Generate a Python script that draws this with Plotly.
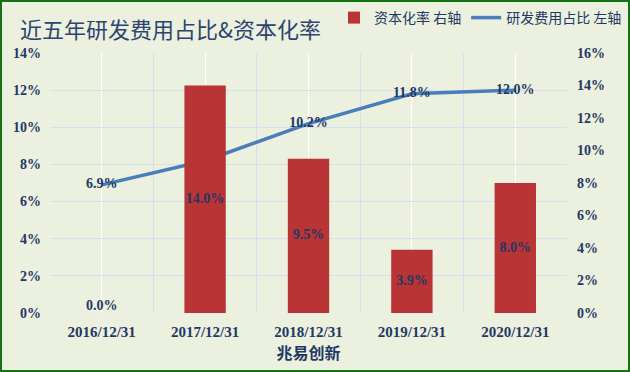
import plotly.graph_objects as go

categories = ["2016/12/31", "2017/12/31", "2018/12/31", "2019/12/31", "2020/12/31"]
cap_rate = [0.0, 14.0, 9.5, 3.9, 8.0]        # 资本化率 (right axis)
rd_ratio = [6.9, 8.2, 10.2, 11.8, 12.0]      # 研发费用占比 (left axis)
left_ticks = [0, 2, 4, 6, 8, 10, 12, 14]
right_ticks = [0, 2, 4, 6, 8, 10, 12, 14, 16]

NAVY = "#1F3864"
BG = "#EBF0DF"
GRID = "#D3E0F0"
SERIF = "Liberation Serif, Times New Roman, serif"
CJK = "Noto Sans CJK SC"

W, H = 630, 372
ML, MR, MT, MB = 50, 63, 53, 59
PW, PH = W - ML - MR, H - MT - MB

x = list(range(len(categories)))

fig = go.Figure()
fig.add_trace(go.Bar(
    x=x, y=cap_rate, name="资本化率 右轴", yaxis="y2",
    marker=dict(color="#B93434", line=dict(width=0)),
    width=0.4, hoverinfo="skip",
))
fig.add_trace(go.Scatter(
    x=x, y=[v / 2 for v in cap_rate], yaxis="y2", mode="text",
    text=[f"{v:.1f}%" for v in cap_rate],
    textposition=["top center" if v == 0 else "middle center" for v in cap_rate],
    textfont=dict(family=SERIF, size=14, color=NAVY, weight="bold"),
    showlegend=False, hoverinfo="skip",
))
fig.add_trace(go.Scatter(
    x=x, y=rd_ratio, name="研发费用占比 左轴", mode="lines+text",
    line=dict(color="#4A7EBB", width=3.5),
    text=[f"{v:.1f}%" for v in rd_ratio], textposition="middle center",
    textfont=dict(family=SERIF, size=14, color=NAVY, weight="bold"),
    hoverinfo="skip",
))

fig.update_layout(
    width=W, height=H,
    margin=dict(l=ML, r=MR, t=MT, b=MB, autoexpand=False),
    paper_bgcolor=BG, plot_bgcolor=BG,
    font=dict(family=SERIF, color=NAVY),
    title=dict(text="近五年研发费用占比&资本化率", x=20 / W, xanchor="left",
               y=1 - 30 / H, yanchor="middle",
               font=dict(family=CJK, size=22, color="#2B4470")),
    legend=dict(orientation="h", x=1 + (MR - 3) / PW, xanchor="right",
                y=1 + 35 / PH, yanchor="middle", bgcolor="rgba(0,0,0,0)",
                font=dict(family=CJK, size=14, color=NAVY),
                traceorder="normal", itemwidth=30),
    xaxis=dict(range=[-0.5, len(categories) - 0.5], tickvals=x, ticktext=categories,
               showgrid=True, gridcolor="#FFFFFF", gridwidth=1,
               minor=dict(tickvals=[i - 0.5 for i in range(len(categories) + 1)],
                          showgrid=True, gridcolor=GRID, gridwidth=1),
               zeroline=False, showline=False, ticks="", ticklabelstandoff=8,
               tickfont=dict(family=SERIF, size=15, color=NAVY, weight="bold"),
               title=dict(text="<b>兆易创新</b>", font=dict(family=CJK, size=16, color=NAVY),
                          standoff=6)),
    yaxis=dict(range=[0, 14], tickvals=left_ticks, ticktext=[f"{v}%" for v in left_ticks],
               showgrid=True, gridcolor=GRID, gridwidth=1, zeroline=False,
               ticks="", ticklabelstandoff=8,
               tickfont=dict(family=SERIF, size=14, color=NAVY, weight="bold")),
    yaxis2=dict(range=[0, 16], tickvals=right_ticks, ticktext=[f"{v}%" for v in right_ticks],
                overlaying="y", side="right", showgrid=False, zeroline=False,
                ticks="", ticklabelstandoff=9,
                tickfont=dict(family=SERIF, size=14, color=NAVY, weight="bold")),
    bargap=0.6,
    shapes=[dict(type="rect", xref="paper", yref="paper",
                 x0=-(ML - 1) / PW, x1=1 + (MR - 1) / PW,
                 y0=-(MB - 1) / PH, y1=1 + (MT - 1) / PH,
                 line=dict(color="#137313", width=2), fillcolor="rgba(0,0,0,0)",
                 layer="above")],
)

fig.write_html("out.html", config={"displayModeBar": False},
               post_script="document.body.style.margin='0';document.body.style.overflow='hidden';")
